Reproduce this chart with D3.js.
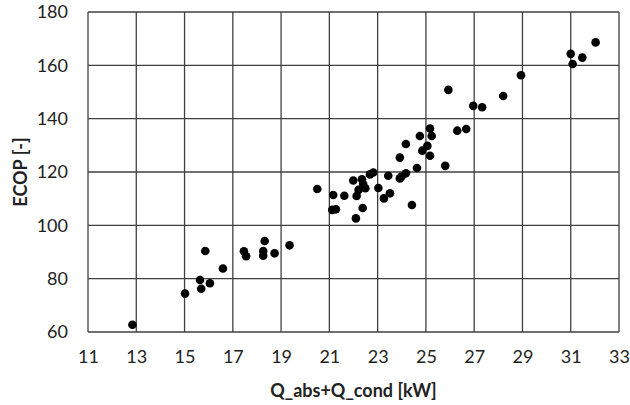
<!DOCTYPE html>
<html>
  <head>
    <meta charset="utf-8">
    <script src="https://d3js.org/d3.v7.min.js"></script>
    <style>
      body { margin: 0; background: #fff; }
      svg { font-family: Lato, "Open Sans", sans-serif; }
    </style>
  </head>
  <body>
    <div id="chart"></div>

    <script>
        // measured points: heat flow Q_abs+Q_cond [kW] and ECOP [-]
        let qValues = [12.84, 15.02, 15.64, 15.69, 16.05, 15.86, 16.59, 17.46, 17.55, 18.32,
                       18.26, 18.26, 18.73, 19.35, 20.50, 21.16, 21.12, 21.27, 21.62, 21.99,
                       22.10, 22.13, 22.21, 22.35, 22.40, 22.49, 22.38, 22.68, 22.82, 23.03,
                       23.26, 23.51, 23.44, 23.92, 23.99, 24.17, 23.92, 24.17, 24.42, 24.63,
                       24.75, 24.85, 25.06, 25.17, 25.24, 25.17, 25.80, 25.93, 26.30, 26.67,
                       26.96, 27.33, 28.20, 28.94, 31.00, 31.08, 31.48, 32.03],
            ecopValues = [62.7, 74.4, 79.5, 76.2, 78.3, 90.4, 83.8, 90.3, 88.4, 94.1,
                          90.4, 88.6, 89.5, 92.5, 113.6, 111.4, 105.8, 106.0, 111.1, 116.8,
                          102.6, 111.0, 113.3, 117.3, 115.5, 113.9, 106.5, 119.1, 119.8, 114.0,
                          110.1, 112.0, 118.6, 117.6, 118.3, 119.5, 125.4, 130.5, 107.6, 121.5,
                          133.5, 128.0, 129.8, 136.3, 133.5, 126.1, 122.3, 150.8, 135.5, 136.1,
                          144.8, 144.3, 148.5, 156.3, 164.3, 160.5, 162.9, 168.6],
            xTicks = [11, 13, 15, 17, 19, 21, 23, 25, 27, 29, 31, 33],
            yTicks = [60, 80, 100, 120, 140, 160, 180]

        let points = qValues.map((q, i) => ({ q: q, ecop: ecopValues[i] }))

        let width  = 630,
            height = 405,
            margin = { top: 12, right: 11, bottom: 73, left: 88 },
            gridColor = "#404040"

        let svg = d3.select("#chart").append("svg")
            .attr("width", width)
            .attr("height", height)

        let x = d3.scaleLinear().domain([11, 33]).range([margin.left, width - margin.right]),
            y = d3.scaleLinear().domain([60, 180]).range([height - margin.bottom, margin.top])

        // grid lines
        svg.append("g")
            .selectAll("line")
            .data(xTicks)
            .join("line")
            .attr("x1", d => x(d)).attr("x2", d => x(d))
            .attr("y1", y(60)).attr("y2", y(180))
            .attr("stroke", gridColor)
            .attr("stroke-width", 1.3)

        svg.append("g")
            .selectAll("line")
            .data(yTicks)
            .join("line")
            .attr("x1", x(11)).attr("x2", x(33))
            .attr("y1", d => y(d)).attr("y2", d => y(d))
            .attr("stroke", gridColor)
            .attr("stroke-width", 1.3)

        // tick labels
        let xAxis = svg.append("g")
            .attr("transform", `translate(0,${y(60)})`)
            .call(d3.axisBottom(x).tickValues(xTicks).tickSize(0).tickPadding(18))
        xAxis.select(".domain").remove()
        xAxis.selectAll("text")
            .attr("font-size", 18)
            .attr("font-family", "Lato, sans-serif")
            .attr("fill", "#222")

        let yAxis = svg.append("g")
            .attr("transform", `translate(${x(11)},0)`)
            .call(d3.axisLeft(y).tickValues(yTicks).tickSize(0).tickPadding(20))
        yAxis.select(".domain").remove()
        yAxis.selectAll("text")
            .attr("font-size", 18)
            .attr("font-family", "Lato, sans-serif")
            .attr("fill", "#222")

        // axis titles
        svg.append("text")
            .attr("x", (x(11) + x(33)) / 2)
            .attr("y", 397)
            .attr("text-anchor", "middle")
            .attr("font-size", 18)
            .attr("font-weight", "bold")
            .attr("fill", "#222")
            .text("Q_abs+Q_cond [kW]")

        svg.append("text")
            .attr("transform", `translate(27,${(y(60) + y(180)) / 2}) rotate(-90)`)
            .attr("text-anchor", "middle")
            .attr("font-size", 18)
            .attr("font-weight", "bold")
            .attr("fill", "#222")
            .text("ECOP [-]")

        // data points
        svg.append("g")
            .selectAll("circle")
            .data(points)
            .join("circle")
            .attr("cx", d => x(d.q))
            .attr("cy", d => y(d.ecop))
            .attr("r", 4.3)
            .attr("fill", "#000")
    </script>
  </body>
</html>
